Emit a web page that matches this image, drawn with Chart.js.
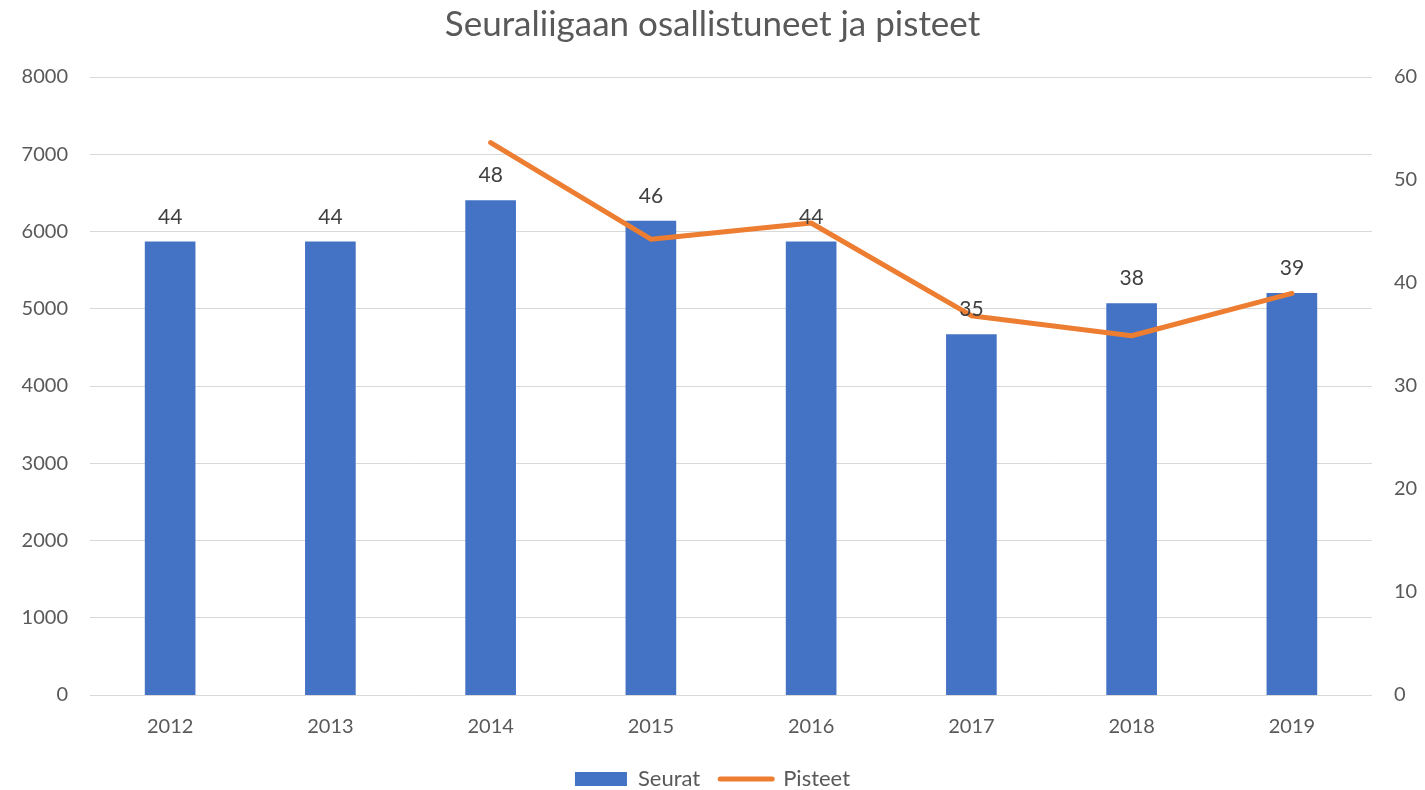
<!DOCTYPE html>
<html>
<head>
<meta charset="utf-8">
<script src="https://cdn.jsdelivr.net/npm/chart.js@4.4.1/dist/chart.umd.min.js"></script>
<style>
    body { margin: 0; background: #ffffff; }
    #chart-wrap { width: 1425px; height: 790px; }
</style>
</head>
<body>
<div id="chart-wrap"><canvas id="seura-chart"></canvas></div>
<script>
const years = ['2012', '2013', '2014', '2015', '2016', '2017', '2018', '2019'];
// Seurat on the right axis (0-60), Pisteet on the left axis (0-8000)
const seurat = [44, 44, 48, 46, 44, 35, 38, 39];
const pisteet = [null, null, 7150, 5900, 6110, 4910, 4650, 5200];

const textColor = '#595959';
const fontFamily = 'Lato, "Open Sans", sans-serif';

// Draw the numbers above the bars, like the original data labels
const barLabels = {
    id: 'barLabels',
    afterDatasetsDraw(chart) {
        const ctx = chart.ctx;
        const meta = chart.getDatasetMeta(0);
        ctx.save();
        ctx.font = `21px ${fontFamily}`;
        ctx.fillStyle = '#404040';
        ctx.textAlign = 'center';
        ctx.textBaseline = 'middle';
        meta.data.forEach((bar, i) => {
            ctx.fillText(String(seurat[i]), bar.x, bar.y - 25);
        });
        ctx.restore();
    }
};

const ctx = document.getElementById('seura-chart').getContext('2d');
new Chart(ctx, {
    type: 'bar',
    data: {
        labels: years,
        datasets: [
            {
                label: 'Seurat',
                data: seurat,
                backgroundColor: '#4472C4',
                barThickness: 50,
                yAxisID: 'y1',
                order: 1
            },
            {
                type: 'line',
                label: 'Pisteet',
                data: pisteet,
                borderColor: '#ED7D31',
                backgroundColor: '#ED7D31',
                borderWidth: 5,
                borderCapStyle: 'round',
                borderJoinStyle: 'round',
                pointRadius: 0,
                tension: 0,
                yAxisID: 'y',
                order: 0
            }
        ]
    },
    options: {
        responsive: true,
        maintainAspectRatio: false,
        animation: false,
        layout: {
            padding: { left: 0, right: 0, top: 0, bottom: -10 }
        },
        scales: {
            x: {
                grid: { display: false },
                border: { display: false },
                ticks: {
                    color: textColor,
                    padding: 12,
                    font: { family: fontFamily, size: 20 }
                },
                afterFit: (scale) => { scale.height = 53; }
            },
            y: {
                position: 'left',
                min: 0,
                max: 8000,
                grid: { color: '#D9D9D9', lineWidth: 1, drawTicks: false },
                border: { display: false },
                ticks: {
                    stepSize: 1000,
                    color: textColor,
                    padding: 22,
                    font: { family: fontFamily, size: 20 },
                    callback: (value) => String(value)
                },
                afterFit: (scale) => { scale.width = 90; }
            },
            y1: {
                position: 'right',
                min: 0,
                max: 60,
                grid: { display: false, drawTicks: false },
                border: { display: false },
                ticks: {
                    stepSize: 10,
                    color: textColor,
                    padding: 22,
                    font: { family: fontFamily, size: 20 }
                },
                afterFit: (scale) => { scale.width = 53; }
            }
        },
        plugins: {
            title: {
                display: true,
                text: 'Seuraliigaan osallistuneet ja pisteet',
                color: textColor,
                padding: { top: 4, bottom: 31 },
                font: { family: fontFamily, size: 35, weight: 'normal' }
            },
            legend: {
                position: 'bottom',
                labels: {
                    usePointStyle: true,
                    pointStyleWidth: 52,
                    boxHeight: 14,
                    padding: 20,
                    color: textColor,
                    font: { family: fontFamily, size: 22 },
                    sort: (a, b) => a.datasetIndex - b.datasetIndex,
                    generateLabels: (chart) => {
                        const items = Chart.defaults.plugins.legend.labels.generateLabels(chart);
                        items.forEach(item => {
                            if (item.datasetIndex === 0) {
                                item.pointStyle = 'rect';
                                item.lineWidth = 0;
                            } else {
                                item.pointStyle = 'line';
                                item.lineWidth = 5;
                                item.lineCap = 'round';
                            }
                        });
                        return items;
                    }
                }
            },
            tooltip: { enabled: false }
        }
    },
    plugins: [barLabels]
});
</script>
</body>
</html>
